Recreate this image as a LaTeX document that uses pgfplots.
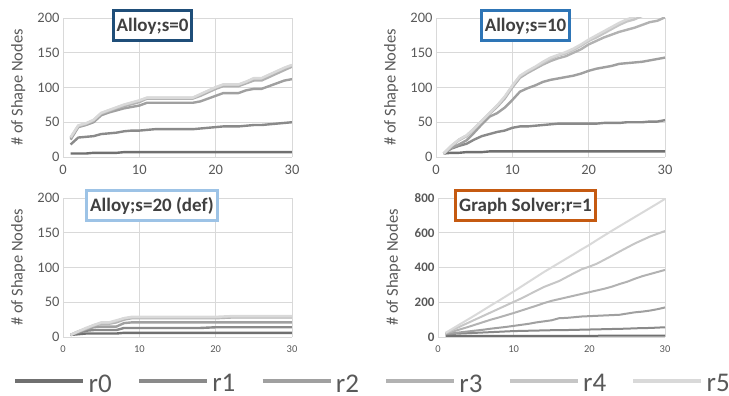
\documentclass[border=0pt]{standalone}
\usepackage{pgfplots}
\pgfplotsset{compat=1.18}
\usepackage{fontspec}
\setmainfont{Carlito}
\definecolor{c0}{HTML}{707070}
\definecolor{c1}{HTML}{8A8A8A}
\definecolor{c2}{HTML}{A0A0A0}
\definecolor{c3}{HTML}{B2B2B2}
\definecolor{c4}{HTML}{C6C6C6}
\definecolor{c5}{HTML}{D9D9D9}
\definecolor{gridc}{HTML}{D9D9D9}
\definecolor{tickc}{HTML}{595959}
\definecolor{titlec}{HTML}{404040}
\definecolor{b1}{HTML}{1F4E79}
\definecolor{b2}{HTML}{2E75B6}
\definecolor{b3}{HTML}{9DC3E6}
\definecolor{b4}{HTML}{C55A11}
\pgfplotsset{
  panel/.style={scale only axis, width=229pt, height=139pt,
    xmin=0, xmax=30, ymin=0, ymax=200,
    xtick={0,10,20,30}, ytick={0,50,100,150,200},
    grid=major, major grid style={color=gridc, line width=0.9pt},
    axis line style={draw=none}, tick style={draw=none},
    /pgf/number format/assume math mode=true,
    ticklabel style={color=tickc, font=\fontsize{14.5}{14.5}\selectfont},
    xticklabel style={yshift=-5pt},
    ylabel={\# of Shape Nodes},
    every axis y label/.style={at={(axis description cs:-0.196,0.5)}, anchor=center, rotate=90, color=tickc, font=\fontsize{16.5}{16.5}\selectfont},
    clip=true,
  },
  every axis plot/.append style={line width=2.4pt, line join=round, no markers},
}
\pgfplotstableread{
x r0 r1 r2 r3 r4 r5
1 5 18 25 27 28 28.5
2 5 28 43 44 45 45.5
3 5 29 46 47 48 48.5
4 6 30 50 52 53 53.5
5 6 33 60 62 63 63.5
6 6 34 64 66 67 67.5
7 6 35 67 70 71 71.5
8 7 37 70 73 75 75.5
9 7 38 72 76 78 78.5
10 7 38 74 79 81 81.5
11 7 39 78 84 85 85.5
12 7 40 78 84 85 85.5
13 7 40 78 84 85 85.5
14 7 40 78 84 85 85.5
15 7 40 78 84 85 85.5
16 7 40 78 84 85 85.5
17 7 40 78 84 85 85.5
18 7 41 80 88 90 90.5
19 7 42 84 93 95 95.5
20 7 43 88 98 100 100.5
21 7 44 92 102 104 104.5
22 7 44 92 102 104 104.5
23 7 44 92 102 104 104.5
24 7 45 96 106 108 108.5
25 7 46 98 110 113 113.5
26 7 46 98 110 113 113.5
27 7 47 102 115 118 118.5
28 7 48 106 120 123 123.5
29 7 49 110 125 128 128.5
30 7 50 112 130 132 132.5
}\tabA
\pgfplotstableread{
x r0 r1 r2 r3 r4 r5
1 5 5 5 5 5 5
2 6 12 13 15 16 16
3 6 16 18 24 25 25
4 7 19 24 30 31 31
5 7 25 35 40 41 41
6 7 30 47 51 52 52
7 8 33 58 62 63 63
8 8 36 63 72 74 74
9 8 38 71 84 86 87
10 8 42 82 100 102 103
11 8 44 94 114 116 117
12 8 44 99 121 123 124
13 8 45 103 127 129 130
14 8 46 108 133 135 137
15 8 47 111 138 141 143
16 8 48 113 142 146 147
17 8 48 115 145 149 151
18 8 48 117 150 154 156
19 8 48 120 155 160 162
20 8 48 124 162 167 169
21 8 48 127 167 172 175
22 8 49 129 172 178 181
23 8 49 131 176 184 187
24 8 49 134 180 190 193
25 8 50 135 183 195 198
26 8 50 136 186 198 202
27 8 50 137 190 203 206
28 8 51 139 194 207 210
29 8 51 141 196 211 214
30 8 53 143 201 216 218
}\tabB
\pgfplotstableread{
x r0 r1 r2 r3 r4 r5
1 3 3 3 3 3 3
2 4 6 7 8 8 8
3 5 9 11 12 12 13
4 5 10 14 16 17 17
5 5 10 15 19 20 21
6 5 10 15 19 20 21
7 5 10 15 21 23 24
8 6 13 20 25 27 27
9 6 13 21 27 28 29
10 6 13 21 27 28 29
12 6 13 21 27 28 29
15 6 13 21 27 28 29
18 6 13 21 27 28 29
20 6 14 21 27 28 29
22 6 14 21 28 29 30
25 6 14 21 28 29 30
30 6 14 21 28 29 30
}\tabC
\pgfplotstableread{
x r0 r1 r2 r3 r4 r5
1 5 15 18 20 22 24
2 5 18 22 32 42 50
3 6 20 27 45 62 76
4 6 22 32 58 82 102
5 6 24 37 72 102 128
6 6 26 42 86 122 155
7 6 28 48 100 142 182
8 7 30 53 112 162 208
9 7 32 58 125 182 235
10 7 34 64 138 202 262
11 7 35 70 152 222 290
12 7 36 76 166 244 318
13 7 37 84 180 266 346
14 7 38 90 195 288 374
15 7 39 96 208 305 400
16 7 40 108 218 322 426
17 7 40 110 228 345 452
18 7 41 114 238 368 478
19 7 42 118 248 390 505
20 7 43 120 258 405 530
21 7 44 122 268 422 558
22 8 45 124 278 445 585
23 8 46 126 290 468 612
24 8 47 128 305 492 638
25 8 48 135 318 515 664
26 8 50 142 335 538 690
27 8 51 146 350 558 716
28 8 52 152 362 578 742
29 8 54 160 374 594 768
30 8 56 170 386 610 795
}\tabD
\begin{document}
\begin{tikzpicture}[x=1pt,y=1pt]
\path[use as bounding box] (0,0) rectangle (729,396);
% top-left
\begin{axis}[panel, at={(63pt,239pt)}, anchor=south west]
\foreach \r/\c in {r0/c0,r1/c1,r2/c2,r3/c3,r4/c4,r5/c5}{
  \edef\tmp{\noexpand\addplot[color=\c] table[x=x,y=\r]{\noexpand\tabA};}\tmp
}
\end{axis}
% top-right
\begin{axis}[panel, at={(436pt,239pt)}, anchor=south west]
\foreach \r/\c in {r0/c0,r1/c1,r2/c2,r3/c3,r4/c4,r5/c5}{
  \edef\tmp{\noexpand\addplot[color=\c] table[x=x,y=\r]{\noexpand\tabB};}\tmp
}
\end{axis}
% bottom-left
\begin{axis}[panel, at={(63pt,59pt)}, anchor=south west,
  xticklabel style={font=\fontsize{10.5}{10.5}\selectfont}]
\foreach \r/\c in {r0/c0,r1/c1,r2/c2,r3/c3,r4/c4,r5/c5}{
  \edef\tmp{\noexpand\addplot[color=\c] table[x=x,y=\r]{\noexpand\tabC};}\tmp
}
\end{axis}
% bottom-right
\begin{axis}[panel, at={(438pt,59pt)}, anchor=south west, width=227pt,
  ymax=800, ytick={0,200,400,600,800},
  xticklabel style={font=\fontsize{10.5}{10.5}\selectfont},
  yticklabel style={font=\bfseries\fontsize{13}{13}\selectfont},
  every axis plot/.append style={line width=2pt}]
\foreach \r/\c in {r0/c0,r1/c1,r2/c2,r3/c3,r4/c4,r5/c5}{
  \edef\tmp{\noexpand\addplot[color=\c] table[x=x,y=\r]{\noexpand\tabD};}\tmp
}
\end{axis}
% legend
\begin{axis}[at={(0pt,0pt)}, anchor=south west, scale only axis, width=729pt, height=30pt,
  hide axis, xmin=0, xmax=1, ymin=0, ymax=1,
  legend columns=6,
  legend image code/.code={\draw[#1, line width=4.5pt] (0pt,0.3em) -- (68pt,0.3em);},
  legend style={at={(13pt,12pt)}, anchor=base west, draw=none, fill=none,
    inner xsep=0pt, inner ysep=0pt,
    font=\fontsize{27}{27}\selectfont, text=tickc,
    nodes={inner xsep=0pt, inner ysep=0pt},
    /tikz/every odd column/.append style={column sep=3pt},
    /tikz/every even column/.append style={column sep=25pt}}]
\addlegendimage{c0}\addlegendentry{r0}
\addlegendimage{c1}\addlegendentry{r1}
\addlegendimage{c2}\addlegendentry{r2}
\addlegendimage{c3}\addlegendentry{r3}
\addlegendimage{c4}\addlegendentry{r4}
\addlegendimage{c5}\addlegendentry{r5}
\end{axis}
% titles
\tikzset{ttl/.style={draw=#1, line width=3pt, fill=white, text=titlec,
  font=\bfseries\fontsize{19}{19}\selectfont, inner xsep=3.5pt, minimum height=30pt}}
\node[ttl=b1] at (152.5,370) {Alloy;s=0};
\node[ttl=b2] at (525.5,370) {Alloy;s=10};
\node[ttl=b3] at (152,190) {Alloy;s=20 (def)};
\node[ttl=b4] at (525.5,190) {Graph Solver;r=1};
\end{tikzpicture}
\end{document}
